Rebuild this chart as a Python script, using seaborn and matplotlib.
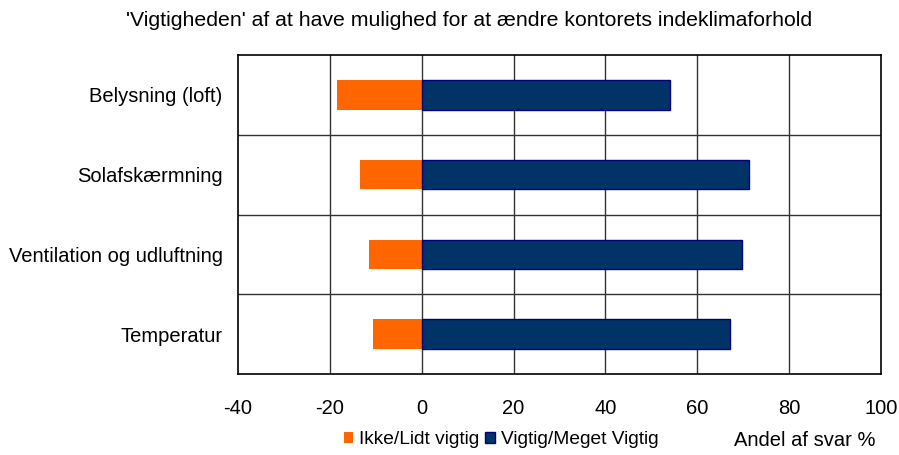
import matplotlib
matplotlib.use("Agg")
import matplotlib.pyplot as plt
import seaborn as sns
import pandas as pd
from matplotlib.patches import Patch

# Data
categories = ["Belysning (loft)", "Solafskærmning", "Ventilation og udluftning", "Temperatur"]
ikke_vigtig = [-18.5, -13.5, -11.5, -10.6]
vigtig = [54.1, 71.2, 69.7, 67.2]
series = ["Ikke/Lidt vigtig", "Vigtig/Meget Vigtig"]
xticks = [-40, -20, 0, 20, 40, 60, 80, 100]

orange = "#FF6600"
navy = "#003366"

df = pd.DataFrame({
    "Kategori": categories * 2,
    "Andel": ikke_vigtig + vigtig,
    "Svar": [series[0]] * 4 + [series[1]] * 4,
})

sns.set_style("white")
plt.rcParams["font.family"] = ["Liberation Sans", "DejaVu Sans"]
plt.rcParams["text.color"] = "black"
plt.rcParams["xtick.color"] = "black"
plt.rcParams["ytick.color"] = "black"

fig = plt.figure(figsize=(8.99, 4.55), dpi=100)
ax = fig.add_axes([238 / 899, 1 - 374 / 455, (881 - 238) / 899, (374 - 55) / 455])

sns.barplot(data=df, y="Kategori", x="Andel", hue="Svar", dodge=False,
            palette=[orange, navy], width=0.37, ax=ax, legend=False,
            order=categories, hue_order=series, saturation=1)

for p in ax.patches:
    if p.get_x() >= 0 and p.get_width() > 0:
        p.set_edgecolor("#000080")
        p.set_linewidth(1)
    else:
        p.set_edgecolor("none")

ax.set_xlim(-40, 100)
ax.set_ylim(3.5, -0.5)
ax.set_xticks(xticks)
ax.set_xticklabels([str(t) for t in xticks])
ax.tick_params(axis="x", length=0, pad=18, labelsize=14.5, labelcolor="black")
ax.tick_params(axis="y", length=0, pad=11, labelsize=14.5, labelcolor="black")
ax.set_xlabel("")
ax.set_ylabel("")

for t in xticks[1:-1]:
    ax.axvline(t, color="#333333", lw=1, zorder=0)
for y in [0.5, 1.5, 2.5]:
    ax.axhline(y, color="#333333", lw=1, zorder=0)
for s in ax.spines.values():
    s.set_visible(True)
    s.set_color("black")
    s.set_linewidth(1.2)

fig.text(469 / 899, 1 - 21 / 455, "'Vigtigheden' af at have mulighed for at ændre kontorets indeklimaforhold",
         ha="center", va="center", fontsize=15.3, color="black")

handles = [Patch(facecolor=orange, edgecolor="none"),
           Patch(facecolor=navy, edgecolor="#000080")]
fig.legend(handles, series, loc="center", bbox_to_anchor=(501 / 899, 1 - 440 / 455),
           ncol=2, frameon=False, fontsize=13.8, handlelength=0.5, handleheight=0.5,
           handletextpad=0.3, columnspacing=0.3, borderaxespad=0, labelcolor="black")
fig.text(805 / 899, 1 - 440 / 455, "Andel af svar %", ha="center", va="center",
         fontsize=14.5, color="black")

fig.savefig("out.png", dpi=100)
